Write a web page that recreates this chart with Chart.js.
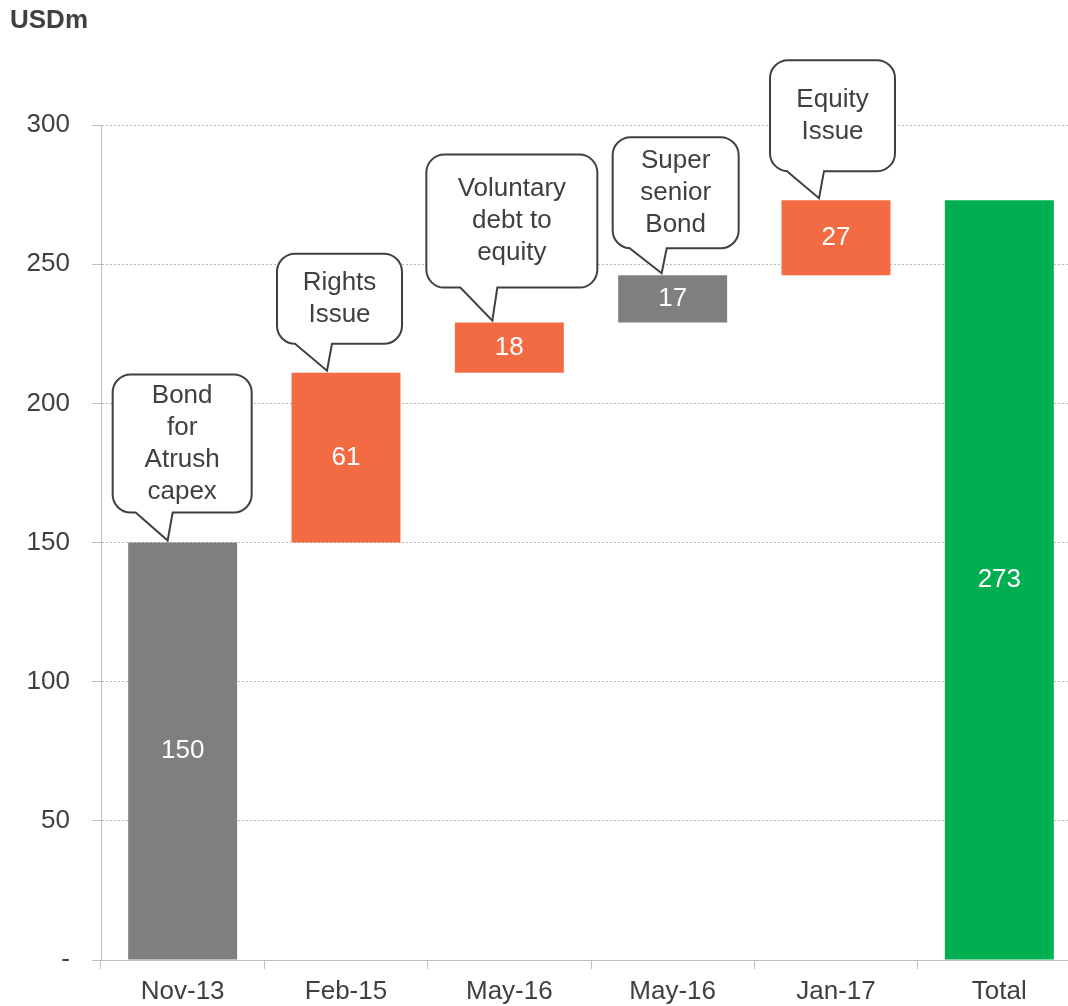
<!DOCTYPE html>
<html>
<head>
<meta charset="utf-8">
<script src="https://cdn.jsdelivr.net/npm/chart.js@4/dist/chart.umd.min.js"></script>
<style>
  html, body { margin: 0; padding: 0; background: #fff; overflow: hidden; }
  #wrap { position: relative; width: 1090px; height: 1006px; }
  #unit { position: absolute; left: 10px; top: 4px; font: bold 26px "Liberation Sans", Arial, sans-serif; color: #404040; }
</style>
</head>
<body>
<div id="wrap">
  <canvas id="waterfall"></canvas>
  <div id="unit">USDm</div>
</div>
<script>
// chart data
const categories = ["Nov-13", "Feb-15", "May-16", "May-16", "Jan-17", "Total"];
const steps = [150, 61, 18, 17, 27];
const barKinds = ["debt", "equity", "equity", "debt", "equity", "total"];
const callouts = [
    ["Bond", "for", "Atrush", "capex"],
    ["Rights", "Issue"],
    ["Voluntary", "debt to", "equity"],
    ["Super", "senior", "Bond"],
    ["Equity", "Issue"],
    null
];
const yTicks = [0, 50, 100, 150, 200, 250, 300];

const colours = { debt: "#7f7f7f", equity: "#f26b43", total: "#00b050" };
const textColour = "#404040";
const FONT = '"Liberation Sans", Arial, sans-serif';

// build floating bars from the steps
let running = 0;
const ranges = steps.map(v => {
    const r = [running, running + v];
    running += v;
    return r;
});
ranges.push([0, running]);
const shown = steps.concat([running]);

// bubble boxes: offset of left edge from bar centre, width, height, gap above bar, tip offset
const bubbleBoxes = [
    { dx: -70, w: 139, h: 138, gap: 30, tip: 55 },
    { dx: -69, w: 125, h: 90, gap: 29, tip: 50 },
    { dx: -83, w: 171, h: 133, gap: 35, tip: 66 },
    { dx: -60, w: 126, h: 111, gap: 27, tip: 49 },
    { dx: -66, w: 125, h: 111, gap: 29, tip: 49 }
];

const labelPlugin = {
    id: "waterfallLabels",
    afterDatasetsDraw(chart) {
        const ctx = chart.ctx;
        const meta = chart.getDatasetMeta(0);
        ctx.save();
        ctx.font = "26px " + FONT;
        ctx.textAlign = "center";
        ctx.textBaseline = "middle";

        meta.data.forEach((bar, i) => {
            // value inside the bar
            ctx.fillStyle = "#ffffff";
            ctx.fillText(String(shown[i]), bar.x, (bar.y + bar.base) / 2);

            const lines = callouts[i];
            if (!lines) return;
            const b = bubbleBoxes[i];
            const top = Math.min(bar.y, bar.base);
            const left = bar.x + b.dx;
            const bottom = top - b.gap;
            const upper = bottom - b.h;
            const right = left + b.w;
            const tipX = left + b.tip;
            const r = 18;

            ctx.beginPath();
            ctx.moveTo(left + r, upper);
            ctx.lineTo(right - r, upper);
            ctx.arcTo(right, upper, right, upper + r, r);
            ctx.lineTo(right, bottom - r);
            ctx.arcTo(right, bottom, right - r, bottom, r);
            ctx.lineTo(tipX + 5, bottom);
            ctx.lineTo(tipX, top - 2);
            ctx.lineTo(tipX - 32, bottom);
            ctx.lineTo(left + r, bottom);
            ctx.arcTo(left, bottom, left, bottom - r, r);
            ctx.lineTo(left, upper + r);
            ctx.arcTo(left, upper, left + r, upper, r);
            ctx.closePath();
            ctx.fillStyle = "#ffffff";
            ctx.fill();
            ctx.lineWidth = 2;
            ctx.strokeStyle = "#404040";
            ctx.stroke();

            ctx.fillStyle = textColour;
            const lh = 32;
            const cy = (upper + bottom) / 2;
            const cx = (left + right) / 2;
            lines.forEach((t, k) => {
                ctx.fillText(t, cx, cy + (k - (lines.length - 1) / 2) * lh);
            });
        });
        ctx.restore();
    }
};

new Chart(document.getElementById("waterfall"), {
    type: "bar",
    data: {
        labels: categories,
        datasets: [{
            data: ranges,
            backgroundColor: barKinds.map(k => colours[k]),
            borderWidth: 0,
            barPercentage: 0.667,
            categoryPercentage: 1
        }]
    },
    options: {
        responsive: true,
        maintainAspectRatio: false,
        animation: false,
        layout: { padding: { top: 125, right: 9, left: 0, bottom: 0 } },
        plugins: {
            legend: { display: false },
            tooltip: { enabled: false }
        },
        scales: {
            x: {
                grid: {
                    drawOnChartArea: false,
                    drawTicks: true,
                    tickLength: 9,
                    color: "#bfbfbf",
                    offset: true
                },
                border: { color: "#bfbfbf", width: 1 },
                ticks: {
                    color: textColour,
                    font: { family: FONT, size: 26 },
                    padding: 7,
                    maxRotation: 0
                },
                afterFit(scale) { scale.height = 46; }
            },
            y: {
                min: 0,
                max: 300,
                afterBuildTicks(scale) { scale.ticks = yTicks.map(v => ({ value: v })); },
                grid: {
                    color: "#b8b8b8",
                    tickColor: "#bfbfbf",
                    tickLength: 9,
                    drawTicks: true
                },
                border: { color: "#bfbfbf", width: 1, dash: [2, 2] },
                ticks: {
                    color: textColour,
                    font: { family: FONT, size: 26 },
                    padding: 22,
                    callback: v => (v === 0 ? "-" : v)
                },
                afterFit(scale) { scale.width = 101; }
            }
        }
    },
    plugins: [labelPlugin]
});
</script>
</body>
</html>
